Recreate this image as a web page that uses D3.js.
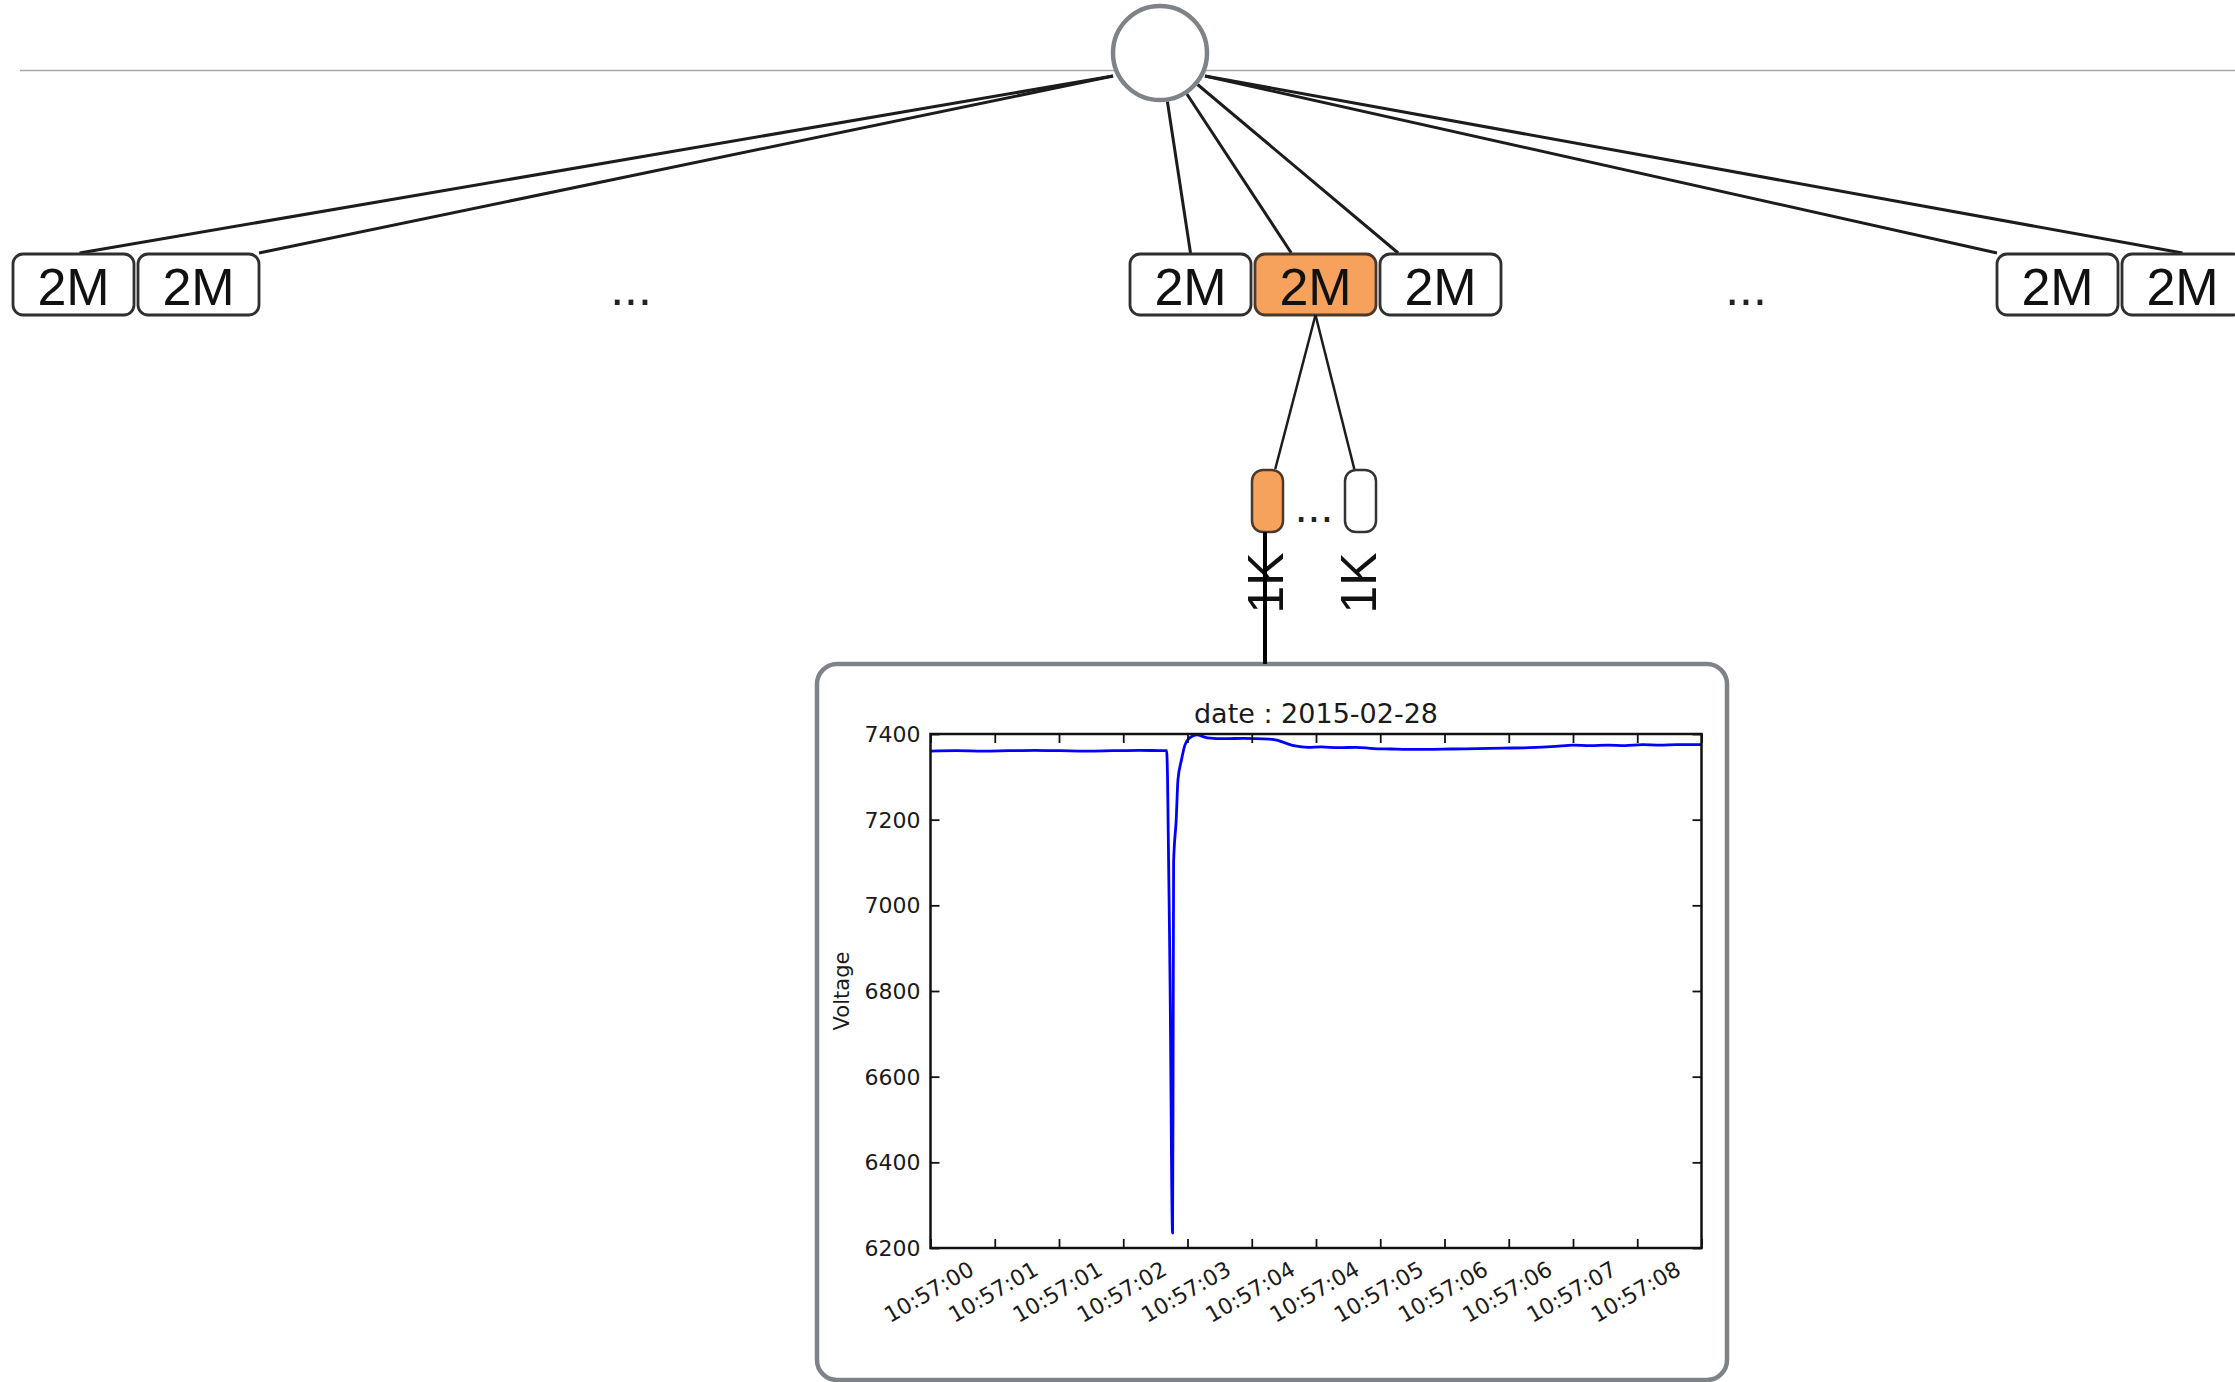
<!DOCTYPE html>
<html>
<head>
<meta charset="utf-8">
<script src="https://cdn.jsdelivr.net/npm/d3@7"></script>
<style>
  html, body { margin: 0; padding: 0; background: #fff; }
  svg { display: block; }
</style>
</head>
<body>
<svg id="fig" width="2235" height="1382"></svg>
<script>
// ---- data ----
const level1Groups = [["2M", "2M"], ["2M", "2M", "2M"], ["2M", "2M"]];
const level1Highlight = [1, 1];          // [group, box] of the selected block
const level2Labels = ["1K", "1K"];
const level2Highlight = 0;
const chartTitle = "date : 2015-02-28";
const yLabel = "Voltage";
const yTicks = [6200, 6400, 6600, 6800, 7000, 7200, 7400];
const xTickLabels = ["10:57:00", "10:57:01", "10:57:01", "10:57:02", "10:57:03", "10:57:04",
                     "10:57:04", "10:57:05", "10:57:06", "10:57:06", "10:57:07", "10:57:08"];
const tickStep = 0.74;                   // seconds between time ticks
const timeSec = [0.00, 0.30, 0.60, 0.90, 1.20, 1.50, 1.80, 2.10, 2.40, 2.70, 2.72, 2.73, 2.76, 2.788,
                 2.795, 2.80, 2.83, 2.85, 2.89, 2.93, 2.985, 3.065, 3.19, 3.40, 3.60, 3.90, 4.00,
                 4.10, 4.20, 4.35, 4.50, 4.70, 4.90, 5.10, 5.30, 5.50, 5.70, 6.00, 6.30, 6.60, 6.90,
                 7.20, 7.40, 7.60, 7.80, 8.00, 8.20, 8.40, 8.60, 8.88];
const voltage = [7360, 7361, 7360, 7361, 7362, 7361, 7360, 7361, 7362, 7361, 7361, 7300, 6800, 6235,
                 6700, 7100, 7200, 7293, 7339, 7374, 7391, 7398, 7391, 7389, 7390, 7388, 7385,
                 7378, 7372, 7369, 7370, 7368, 7369, 7366, 7365, 7364, 7364, 7365, 7366, 7367, 7368,
                 7371, 7374, 7373, 7374, 7373, 7375, 7374, 7375, 7375];

// ---- drawing ----
const svg = d3.select("#fig");
const ink = "#1c1c1c", frameGrey = "#7f8388", orange = "#f6a25c", orangeEdge = "#4b3a2c";
const boxFont = "'Liberation Sans', Arial, sans-serif";
const plotFont = "'DejaVu Sans', sans-serif";

// faint rule behind the root
svg.append("line").attr("x1", 20).attr("x2", 2235).attr("y1", 70.5).attr("y2", 70.5)
  .attr("stroke", "#a9a9a9").attr("stroke-width", 1.5);

// layout of the first level
const boxW = 121, boxH = 61, boxGap = 4, rowTop = 254;
const groupStart = [13, 1130, 1997];
const root = { x: 1160, y: 53, r: 47 };
// where each edge leaves the root and where it lands on its box (fraction of box width)
const edgeSpec = [
  { from: [1113, 76], at: [0.55, 1.0] },
  { from: null,       at: [0.5, 0.3, 0.15] },
  { from: [1205, 76], at: [0.0, 0.5] }
];

const boxes = [];
level1Groups.forEach((grp, gi) => {
  grp.forEach((label, bi) => {
    boxes.push({ gi, bi, label, x: groupStart[gi] + bi * (boxW + boxGap), y: rowTop,
                 hi: gi === level1Highlight[0] && bi === level1Highlight[1] });
  });
});

const edgeG = svg.append("g");
boxes.forEach(b => {
  const spec = edgeSpec[b.gi];
  const tx = b.x + spec.at[b.bi] * boxW, ty = b.y - 1;
  let sx, sy;
  if (spec.from) { [sx, sy] = spec.from; }
  else {
    const a = Math.atan2(ty - root.y, tx - root.x);
    sx = root.x + (root.r + 2) * Math.cos(a); sy = root.y + (root.r + 2) * Math.sin(a);
  }
  edgeG.append("line").attr("x1", sx).attr("y1", sy).attr("x2", tx).attr("y2", ty)
    .attr("stroke", ink).attr("stroke-width", 3);
});

svg.append("circle").attr("cx", root.x).attr("cy", root.y).attr("r", root.r)
  .attr("fill", "#fff").attr("stroke", frameGrey).attr("stroke-width", 4.5);

const boxG = svg.append("g");
boxes.forEach(b => {
  boxG.append("rect").attr("x", b.x).attr("y", b.y).attr("width", boxW).attr("height", boxH)
    .attr("rx", 10).attr("fill", b.hi ? orange : "#fff")
    .attr("stroke", b.hi ? orangeEdge : "#2f2f2f").attr("stroke-width", 2.8);
  boxG.append("text").attr("x", b.x + boxW / 2).attr("y", b.y + 51)
    .attr("text-anchor", "middle").attr("font-family", boxFont).attr("font-size", 52)
    .attr("fill", "#111").text(b.label);
});

// ellipses between groups
[631, 1746].forEach(cx => {
  svg.append("text").attr("x", cx).attr("y", 305).attr("text-anchor", "middle")
    .attr("font-family", boxFont).attr("font-size", 50).attr("fill", "#222").text("...");
});

// second level
const parent = boxes.find(b => b.hi);
const pX = parent.x + boxW / 2, pY = parent.y + boxH;
const leafW = 31, leafH = 62, leafTop = 470;
const leafX = [1252, 1345];
const leafAnchor = [0.75, 0.3];
level2Labels.forEach((lab, i) => {
  svg.append("line").attr("x1", pX).attr("y1", pY).attr("x2", leafX[i] + leafAnchor[i] * leafW)
    .attr("y2", leafTop - 1).attr("stroke", ink).attr("stroke-width", 2.5);
});
level2Labels.forEach((lab, i) => {
  const hi = i === level2Highlight;
  svg.append("rect").attr("x", leafX[i]).attr("y", leafTop).attr("width", leafW).attr("height", leafH)
    .attr("rx", 11).attr("fill", hi ? orange : "#fff")
    .attr("stroke", hi ? orangeEdge : "#333").attr("stroke-width", 2.5);
  svg.append("text").attr("transform", `translate(${leafX[i] + leafW},583) rotate(-90)`)
    .attr("text-anchor", "middle").attr("font-family", boxFont).attr("font-size", 50)
    .attr("fill", "#111").text(lab);
});
svg.append("text").attr("x", 1314).attr("y", 522).attr("text-anchor", "middle")
  .attr("font-family", boxFont).attr("font-size", 46).attr("fill", "#222").text("...");

// frame of the inset chart
const frame = { x: 817, y: 664, w: 910, h: 716 };
svg.append("rect").attr("x", frame.x).attr("y", frame.y).attr("width", frame.w).attr("height", frame.h)
  .attr("rx", 20).attr("fill", "#fff").attr("stroke", frameGrey).attr("stroke-width", 4.5);

// connector from the selected leaf down to the chart
const sel = leafX[level2Highlight] + 13;
svg.append("line").attr("x1", sel).attr("x2", sel).attr("y1", leafTop + leafH).attr("y2", frame.y)
  .attr("stroke", "#000").attr("stroke-width", 4);

// ---- inset voltage plot ----
const plot = { l: 930.5, r: 1701.5, t: 734, b: 1248 };
const x = d3.scaleLinear().domain([0, tickStep * 12]).range([plot.l, plot.r]);
const y = d3.scaleLinear().domain([6200, 7400]).range([plot.b, plot.t]);
const xTickVals = d3.range(13).map(k => k * tickStep);

const g = svg.append("g").attr("font-family", plotFont);

const line = d3.line().x((d, i) => x(timeSec[i])).y(d => y(d)).curve(d3.curveMonotoneX);
g.append("path").datum(voltage).attr("d", line).attr("fill", "none")
  .attr("stroke", "#0000ff").attr("stroke-width", 2.8).attr("stroke-linejoin", "round");

function styleAxis(sel) {
  sel.select(".domain").remove();
  sel.selectAll(".tick line").attr("stroke", "#111").attr("stroke-width", 1.8);
}

const xb = g.append("g").attr("transform", `translate(0,${plot.b})`)
  .call(d3.axisBottom(x).tickValues(xTickVals).tickSize(-9)
    .tickFormat((d, i) => xTickLabels[i] || ""));
styleAxis(xb);
xb.selectAll(".tick text")
  .attr("y", 0).attr("dy", 0)
  .attr("transform", "translate(-2,44) rotate(-30)")
  .attr("text-anchor", "middle").attr("dominant-baseline", "central")
  .attr("font-size", 22).attr("fill", "#1a1a1a").attr("font-family", plotFont);

const xt = g.append("g").attr("transform", `translate(0,${plot.t})`)
  .call(d3.axisTop(x).tickValues(xTickVals).tickSize(-9).tickFormat(""));
styleAxis(xt);

const yl = g.append("g").attr("transform", `translate(${plot.l},0)`)
  .call(d3.axisLeft(y).tickValues(yTicks).tickSize(-9).tickPadding(10).tickFormat(d3.format("d")));
styleAxis(yl);
yl.selectAll(".tick text").attr("font-size", 22).attr("fill", "#1a1a1a").attr("font-family", plotFont)
  .attr("dy", "0.34em");

const yr = g.append("g").attr("transform", `translate(${plot.r},0)`)
  .call(d3.axisRight(y).tickValues(yTicks).tickSize(-9).tickFormat(""));
styleAxis(yr);

g.append("rect").attr("x", plot.l).attr("y", plot.t).attr("width", plot.r - plot.l)
  .attr("height", plot.b - plot.t).attr("fill", "none").attr("stroke", "#111").attr("stroke-width", 2.5);

g.append("text").attr("x", (plot.l + plot.r) / 2).attr("y", 723).attr("text-anchor", "middle")
  .attr("font-size", 27).attr("fill", "#1a1a1a").text(chartTitle);

g.append("text").attr("transform", `translate(842,${(plot.t + plot.b) / 2}) rotate(-90)`)
  .attr("text-anchor", "middle").attr("dominant-baseline", "central")
  .attr("font-size", 21).attr("fill", "#1a1a1a").text(yLabel);
</script>
</body>
</html>
